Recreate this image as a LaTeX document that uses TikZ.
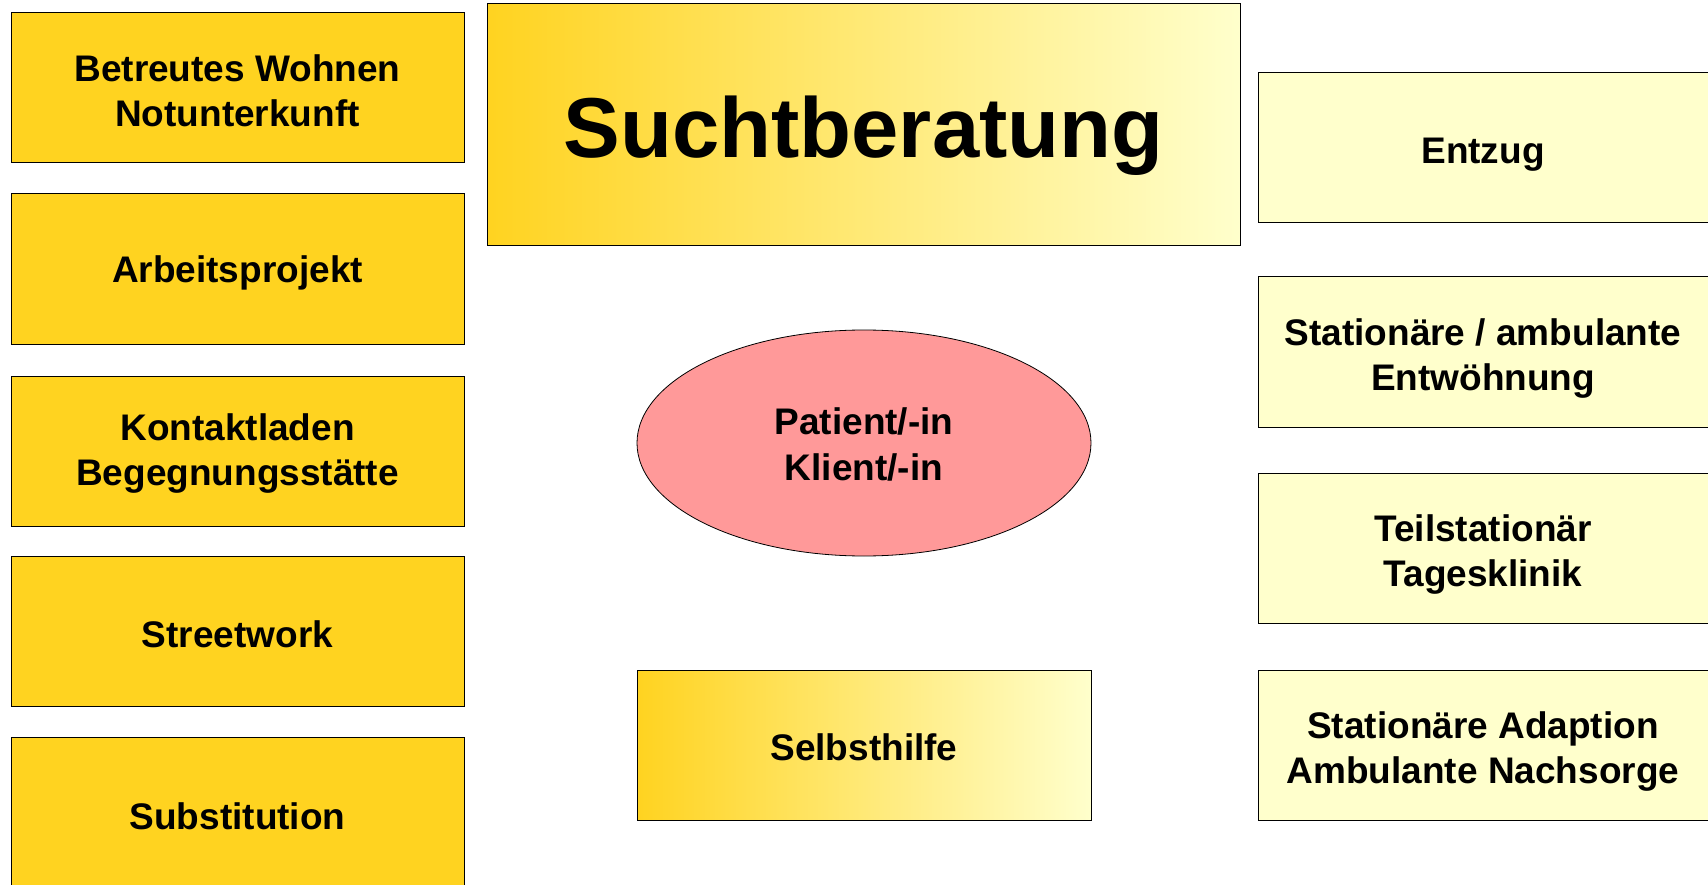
\documentclass[tikz,border=0pt]{standalone}
\usepackage{fontspec}
\setmainfont{Liberation Sans}
\usepackage{tikz}
\usetikzlibrary{shapes.geometric}
\definecolor{gold}{RGB}{255,211,32}
\definecolor{paleyellow}{RGB}{255,255,204}
\definecolor{rose}{RGB}{255,153,153}
\tikzset{
  box/.style={draw=black, line width=1pt, minimum width=453pt, minimum height=150pt, inner sep=0pt},
  darkbox/.style={box, fill=gold},
  lightbox/.style={box, fill=paleyellow, minimum width=450pt},
  fadebox/.style={box, left color=gold, right color=paleyellow},
  boxtext/.style={align=center, inner sep=0pt, font=\fontsize{37}{45}\selectfont\bfseries},
}
\begin{document}
\begin{tikzpicture}[x=1pt,y=-1pt]
\useasboundingbox (0,0) rectangle (1708,885);
% left column
\node [darkbox] (wohnen) at (237.5,87.5) {};
\node [boxtext] (wohnen-t) at ([yshift=-3pt]wohnen.center) {Betreutes Wohnen\\Notunterkunft};
\node [darkbox] (arbeit) at (237.5,269) {};
\node [boxtext] (arbeit-t) at ([yshift=-4pt]arbeit.center) {Arbeitsprojekt};
\node [darkbox] (kontakt) at (237.5,451) {};
\node [boxtext] (kontakt-t) at ([yshift=-3pt]kontakt.center) {Kontaktladen\\Begegnungsstätte};
\node [darkbox] (street) at (237.5,631.5) {};
\node [boxtext] (street-t) at ([yshift=-3pt]street.center) {Streetwork};
\node [darkbox] (subst) at (237.5,812) {};
\node [boxtext] (subst-t) at ([yshift=-4pt]subst.center) {Substitution};
% centre
\node [fadebox, minimum width=753pt, minimum height=242pt] (sucht) at (863.5,125) {};
\node [boxtext, font=\fontsize{85}{90}\selectfont\bfseries] (sucht-t) at ([yshift=-11pt]sucht.center) {Suchtberatung};
\node [ellipse, draw=black, line width=0.8pt, fill=rose, minimum width=454pt, minimum height=226pt, inner sep=0pt] (patient) at (864,443) {};
\node [boxtext, font=\fontsize{37}{46}\selectfont\bfseries] (patient-t) at ([yshift=-1pt]patient.center) {Patient/-in\\Klient/-in};
\node [fadebox, minimum width=454pt] (selbst) at (864,745) {};
\node [boxtext] (selbst-t) at ([yshift=-2pt]selbst.center) {Selbsthilfe};
% right column
\node [lightbox] (entzug) at (1483,148) {};
\node [boxtext] (entzug-t) at ([yshift=-7pt]entzug.center) {Entzug};
\node [lightbox] (entw) at (1483,352) {};
\node [boxtext] (entw-t) at ([yshift=-7pt]entw.center) {Stationäre / ambulante\\Entwöhnung};
\node [lightbox] (teil) at (1483,548) {};
\node [boxtext] (teil-t) at ([yshift=-7pt]teil.center) {Teilstationär\\Tagesklinik};
\node [lightbox] (adapt) at (1483,745) {};
\node [boxtext] (adapt-t) at ([yshift=-7pt]adapt.center) {Stationäre Adaption\\Ambulante Nachsorge};
\end{tikzpicture}
\end{document}
